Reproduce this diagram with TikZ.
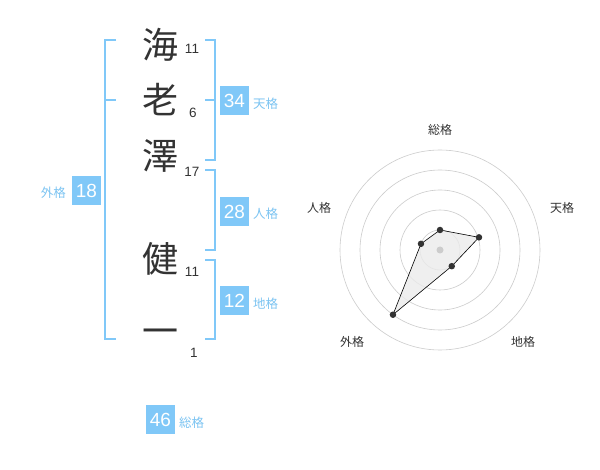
\documentclass[tikz,border=0pt]{standalone}
\usepackage{fontspec}
\setmainfont{Liberation Sans}
\newfontfamily\jp{Noto Sans CJK JP}
\definecolor{kblue}{HTML}{80C8F8}
\definecolor{klabel}{HTML}{7CC4F2}
\definecolor{kdark}{HTML}{333333}
\definecolor{kring}{HTML}{CCCCCC}
\begin{document}
\begin{tikzpicture}[x=1pt,y=-1pt,
 kanji/.style={font=\jp\fontsize{36}{36}\selectfont, text=kdark, inner sep=0},
 strokes/.style={font=\fontsize{13.5}{13.5}\selectfont, text=kdark, inner sep=0},
 valbox/.style={fill=kblue, text=white, font=\fontsize{19}{19}\selectfont, minimum size=29, inner sep=0},
 lbl/.style={font=\jp\fontsize{12.5}{12.5}\selectfont, text=klabel, inner sep=0},
 brk/.style={draw=kblue, line width=1.6},
 ring/.style={draw=kring, line width=0.6},
 rlbl/.style={font=\jp\fontsize{12}{12}\selectfont, text=kdark, inner sep=0},
 dot/.style={circle, fill=kdark, inner sep=0, minimum size=6.5}
]
\useasboundingbox[fill=white] (0,0) rectangle (600,470);

% characters
\node[kanji] (c1) at (160,45) {海};
\node[kanji] (c2) at (160,100) {老};
\node[kanji] (c3) at (160,156) {澤};
\node[kanji] (c4) at (160,259) {健};
\node[kanji] (c5) at (160,337) {一};
\node[strokes] (n1) at (192,49) {11};
\node[strokes] (n2) at (193,113) {6};
\node[strokes] (n3) at (192,172) {17};
\node[strokes] (n4) at (192,272) {11};
\node[strokes] (n5) at (194,353) {1};

% brackets
\draw[brk] (116,40) -- (105,40) -- (105,339) -- (116,339);
\draw[brk] (105,100) -- (116,100);
\draw[brk] (205,40) -- (215,40) -- (215,160) -- (205,160);
\draw[brk] (205,100) -- (215,100);
\draw[brk] (205,170) -- (215,170) -- (215,250) -- (205,250);
\draw[brk] (205,260) -- (215,260) -- (215,339) -- (205,339);

% value boxes
\node[valbox] (b18) at (86.5,190.5) {18};
\node[lbl, anchor=east] (l18) at (66,193) {外格};
\node[valbox] (b34) at (234.5,100.5) {34};
\node[lbl, anchor=west] (l34) at (253,104) {天格};
\node[valbox] (b28) at (234.5,211.5) {28};
\node[lbl, anchor=west] (l28) at (253,214) {人格};
\node[valbox] (b12) at (234.5,300.5) {12};
\node[lbl, anchor=west] (l12) at (253,304) {地格};
\node[valbox] (b46) at (160.5,419.5) {46};
\node[lbl, anchor=west] (l46) at (179,423) {総格};

% radar chart
\begin{scope}[shift={(440,250)}, yscale=-1]
  \coordinate (rc) at (0,0);
  \foreach \r in {20,40,60,80,100} \draw[ring] (rc) circle[radius=\r];
  \coordinate (v1) at (90:20);
  \coordinate (v2) at (18:41);
  \coordinate (v3) at (-54:20);
  \coordinate (v4) at (-126:80);
  \coordinate (v5) at (162:20);
  \fill[black!8, opacity=0.8] (v1) -- (v2) -- (v3) -- (v4) -- (v5) -- cycle;
  \draw[black, line width=0.6] (v1) -- (v2) -- (v3) -- (v4) -- (v5) -- cycle;
  \node[circle, fill=kring, inner sep=0, minimum size=7] (ctr) at (rc) {};
  \node[dot] (d1) at (v1) {};
  \node[dot] (d2) at (v2) {};
  \node[dot] (d3) at (v3) {};
  \node[dot] (d4) at (v4) {};
  \node[dot] (d5) at (v5) {};
\end{scope}
\node[rlbl] (r1) at (440,130) {総格};
\node[rlbl] (r2) at (562,208) {天格};
\node[rlbl] (r3) at (523,342) {地格};
\node[rlbl] (r4) at (352,342) {外格};
\node[rlbl] (r5) at (319,208) {人格};
\end{tikzpicture}
\end{document}
